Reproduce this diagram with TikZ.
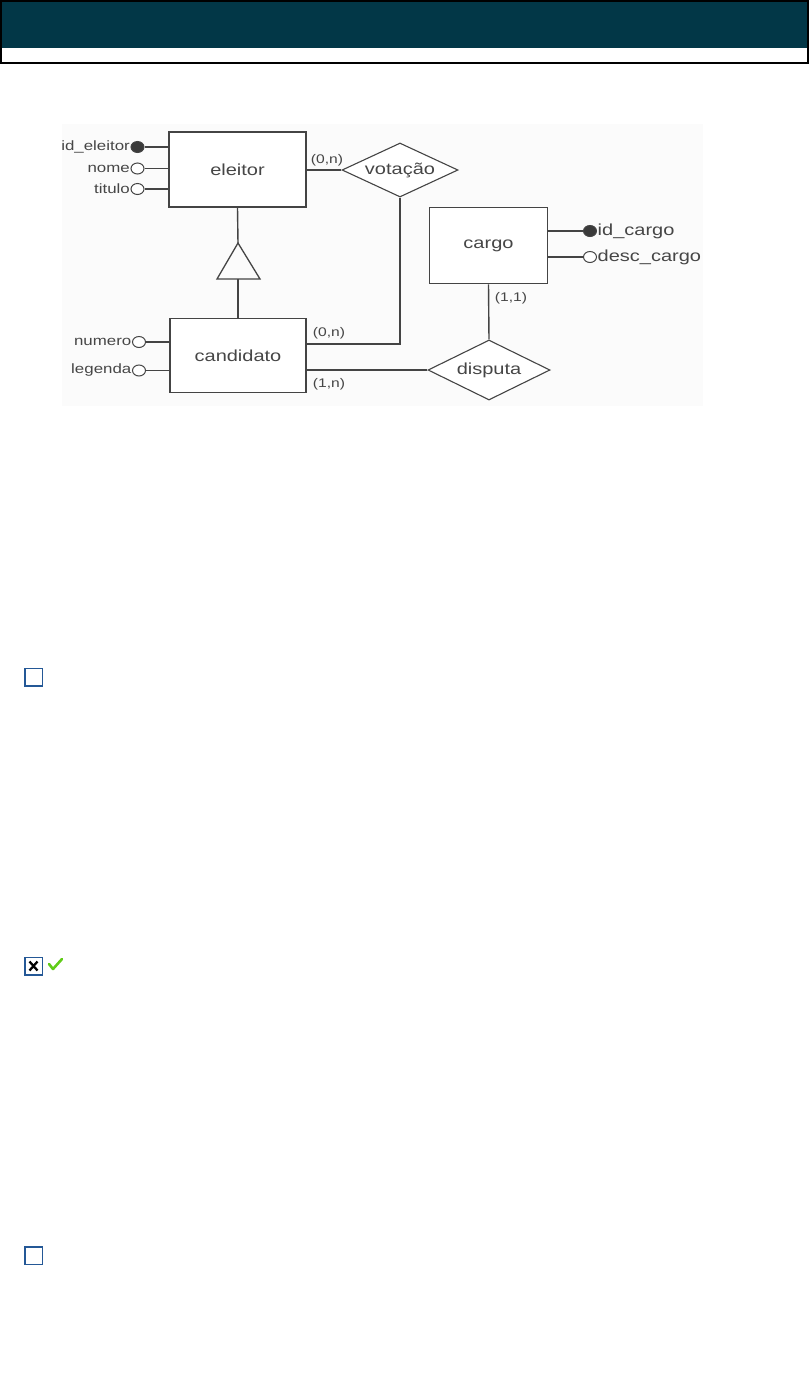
\documentclass[tikz,border=0pt]{standalone}
\usepackage{fontspec}
\setmainfont{Liberation Sans}
\newfontfamily\erfont[FakeStretch=1.25]{Liberation Sans}
\usetikzlibrary{positioning, shapes.geometric}
\definecolor{headbg}{RGB}{2,55,71}
\definecolor{diagbg}{RGB}{251,251,251}
\definecolor{erline}{RGB}{68,68,68}
\definecolor{ertext}{RGB}{70,70,70}
\definecolor{boxblue}{RGB}{36,88,150}
\definecolor{tickgreen}{RGB}{96,204,24}

\begin{document}
\begin{tikzpicture}[x=1pt,y=-1pt,
    entity/.style={draw=erline, line width=1.6pt, fill=white, minimum width=137pt, minimum height=75pt,
        inner sep=0pt, text=ertext, font=\erfont\fontsize{16}{18}\selectfont},
    relation/.style={diamond, draw=erline, line width=1.1pt, fill=white, inner sep=0pt, aspect=2.15,
        text=ertext, font=\erfont\fontsize{16}{18}\selectfont},
    attr/.style={ellipse, draw=erline, line width=1pt, fill=white, minimum width=13pt,
        minimum height=11pt, inner sep=0pt},
    keyattr/.style={attr, fill=erline!85!black},
    lbl/.style={text=ertext, inner sep=0.5pt, font=\erfont\fontsize{13.5}{15}\selectfont},
    rlbl/.style={text=ertext, inner sep=0.5pt, font=\erfont\fontsize{16}{18}\selectfont},
    card/.style={text=ertext, inner sep=0pt, font=\erfont\fontsize{12.5}{14}\selectfont},
    conn/.style={draw=erline, line width=1.4pt},
    chkbox/.style={draw=boxblue, line width=1.5pt, fill=white, minimum size=17.5pt, inner sep=0pt}
]
    \useasboundingbox (0,0) rectangle (809,1379);
    \fill[headbg] (0,1) rectangle (808,48);
    \draw[line width=1.5pt] (0.75,1) rectangle (808,63);
    \fill[diagbg] (62,124) rectangle (703,406);

    \node[entity] (eleitor) at (237.5,169.5) {eleitor};
    \node[entity, minimum width=136pt, minimum height=74pt] (candidato) at (238,355.5) {candidato};
    \node[entity, minimum width=118pt, minimum height=76pt] (cargo) at (488.5,245.5) {cargo};
    \node[relation, minimum width=116pt, minimum height=54pt] (votacao) at (400,170) {votação};
    \node[relation, minimum width=122pt, minimum height=60pt] (disputa) at (489,370) {disputa};

    \coordinate (isa top) at (238,243);
    \coordinate (isa base) at (238,279);
    \draw[erline, line width=1.3pt] (217,279) -- (isa top) -- (260,279) -- cycle;
    \draw[conn] (eleitor.south) -- (isa top);
    \draw[conn] (isa base) -- (candidato.north);

    \node[keyattr, label={[lbl]left:id\_eleitor}] (ideleitor) at (137.5,147) {};
    \node[attr, below=9.5pt of ideleitor, label={[lbl]left:nome}] (nome) {};
    \node[attr, below=8.5pt of nome, label={[lbl]left:titulo}] (titulo) {};
    \node[attr, label={[lbl]left:numero}] (numero) at (139,342) {};
    \node[attr, below=16.5pt of numero, label={[lbl]left:legenda}] (legenda) {};
    \node[keyattr, label={[rlbl]right:id\_cargo}] (idcargo) at (590,231) {};
    \node[attr, below=14pt of idcargo, label={[rlbl]right:desc\_cargo}] (desccargo) {};

    \foreach \a/\e in {ideleitor/eleitor, nome/eleitor, titulo/eleitor, numero/candidato, legenda/candidato}
        \draw[conn] (\a.east) -- (\a -| \e.west);
    \foreach \a in {idcargo, desccargo}
        \draw[conn] (\a.west) -- (\a -| cargo.east);

    \draw[conn] (eleitor.east |- votacao.west) -- (votacao.west);
    \draw[conn] (votacao.south) |- ([yshift=11.5pt]candidato.east);
    \draw[conn] (disputa.west) -- (disputa.west -| candidato.east);
    \draw[conn] (cargo.south) -- (disputa.north);

    \node[card] (card el) at (327,160) {(0,n)};
    \node[card] (card cv) at (329,333) {(0,n)};
    \node[card] (card cd) at (329,384) {(1,n)};
    \node[card] (card cg) at (511,298) {(1,1)};

    \node[chkbox] (opt a) at (33.5,677) {};
    \node[chkbox] (opt b) at (33.5,966) {};
    \node[chkbox] (opt c) at (33.5,1255.5) {};
    \draw[line width=2.3pt] ([shift={(-4pt,-4.5pt)}]opt b.center) -- ([shift={(4pt,4.5pt)}]opt b.center)
        ([shift={(-4pt,4.5pt)}]opt b.center) -- ([shift={(4pt,-4.5pt)}]opt b.center);
    \coordinate (tick) at (49,964);
    \draw[tickgreen, line width=2.6pt, line cap=round, line join=round]
        (tick) -- ++(4,5) -- ++(9,-10);
\end{tikzpicture}
\end{document}
